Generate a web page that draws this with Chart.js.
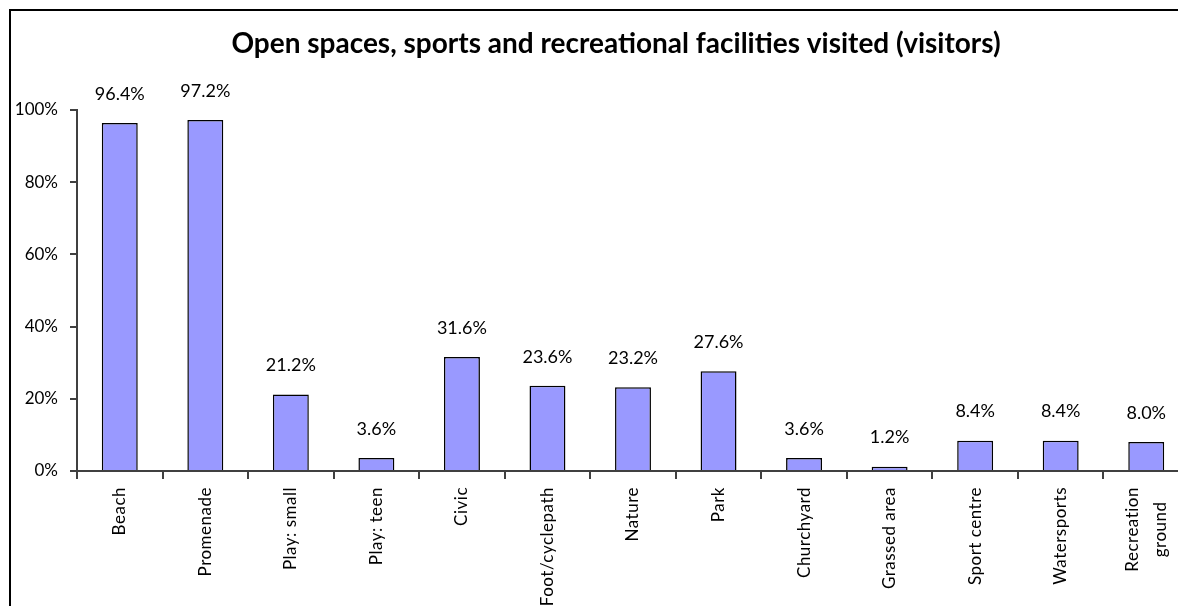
<!DOCTYPE html>
<html>
<head>
<meta charset="utf-8">
<script src="https://cdn.jsdelivr.net/npm/chart.js@4/dist/chart.umd.min.js"></script>
<style>
    html, body { margin: 0; padding: 0; background: #fff; overflow: hidden; }
    #wrap { position: absolute; left: 0; top: 0; width: 1240px; height: 660px; }
</style>
</head>
<body>
<div id="wrap"><canvas id="facilitiesChart" width="1240" height="660"></canvas></div>
<script>
/* Facilities visited by visitors (share of respondents, %) */
var categories = [
    'Beach', 'Promenade', 'Play: small', 'Play: teen', 'Civic', 'Foot/cyclepath',
    'Nature', 'Park', 'Churchyard', 'Grassed area', 'Sport centre', 'Watersports',
    ['Recreation', 'ground']
];
var visitedPct = [96.4, 97.2, 21.2, 3.6, 31.6, 23.6, 23.2, 27.6, 3.6, 1.2, 8.4, 8.4, 8.0];
var yTicks = [0, 20, 40, 60, 80, 100];

var chartTitle = 'Open spaces, sports and recreational facilities visited (visitors)';
var axisColor  = '#404040';
var fontFamily = 'Lato, "Open Sans", sans-serif';

/* frame, title, value labels and rotated category names */
var decorPlugin = {
    id: 'decor',
    beforeDraw: function (chart) {
        var ctx = chart.ctx;
        ctx.save();
        ctx.strokeStyle = '#000';
        ctx.lineWidth = 2;
        ctx.strokeRect(10, 10, chart.width + 40, chart.height + 40);
        ctx.fillStyle = '#000';
        ctx.font = 'bold 28px ' + fontFamily;
        ctx.textAlign = 'center';
        ctx.textBaseline = 'alphabetic';
        ctx.fillText(chartTitle, 616, 53);
        ctx.restore();
    },
    afterDatasetsDraw: function (chart) {
        var ctx  = chart.ctx;
        var meta = chart.getDatasetMeta(0);
        ctx.save();
        ctx.fillStyle = '#000';
        ctx.font = '18px ' + fontFamily;
        ctx.textAlign = 'center';
        ctx.textBaseline = 'middle';
        meta.data.forEach(function (bar, i) {
            ctx.fillText(visitedPct[i].toFixed(1) + '%', bar.x, bar.y - 29);
        });
        ctx.restore();
    },
    afterDraw: function (chart) {
        var ctx   = chart.ctx;
        var xs    = chart.scales.x;
        var top   = chart.chartArea.bottom + 16;
        var lineH = 28;
        ctx.save();
        ctx.fillStyle = '#000';
        ctx.font = '17px ' + fontFamily;
        ctx.letterSpacing = '0.5px';
        ctx.textAlign = 'center';
        ctx.textBaseline = 'middle';
        categories.forEach(function (label, i) {
            var lines = Array.isArray(label) ? label : [label];
            var maxW = Math.max.apply(null, lines.map(function (l) { return ctx.measureText(l).width; }));
            ctx.save();
            ctx.translate(xs.getPixelForValue(i), top);
            ctx.rotate(-Math.PI / 2);
            lines.forEach(function (l, j) {
                ctx.fillText(l, -maxW / 2, (j - (lines.length - 1) / 2) * lineH);
            });
            ctx.restore();
        });
        ctx.restore();
    }
};

new Chart(document.getElementById('facilitiesChart').getContext('2d'), {
    type: 'bar',
    data: {
        labels: categories,
        datasets: [{
            data: visitedPct,
            backgroundColor: '#9999FF',
            borderColor: '#000',
            borderWidth: 1.5,
            borderSkipped: 'start',
            categoryPercentage: 1,
            barPercentage: 0.42
        }]
    },
    options: {
        responsive: false,
        animation: false,
        devicePixelRatio: 1,
        layout: { padding: { top: 110, right: 51, left: 0, bottom: 0 } },
        plugins: {
            legend: { display: false },
            title: { display: false },
            tooltip: { enabled: false }
        },
        scales: {
            x: {
                grid: { drawOnChartArea: false, offset: true, tickLength: 8, tickColor: axisColor, lineWidth: 2 },
                border: { color: axisColor, width: 2 },
                ticks: { display: false },
                afterFit: function (axis) { axis.height = 189; }
            },
            y: {
                min: 0,
                max: 100,
                afterBuildTicks: function (axis) {
                    axis.ticks = yTicks.map(function (v) { return { value: v }; });
                },
                grid: { drawOnChartArea: false, tickLength: 7, tickColor: axisColor, lineWidth: 2 },
                border: { color: axisColor, width: 2 },
                ticks: {
                    color: '#000',
                    padding: 12,
                    font: { family: fontFamily, size: 17 },
                    callback: function (v) { return v + '%'; }
                },
                afterFit: function (axis) { axis.width = 77; }
            }
        }
    },
    plugins: [decorPlugin]
});
</script>
</body>
</html>
